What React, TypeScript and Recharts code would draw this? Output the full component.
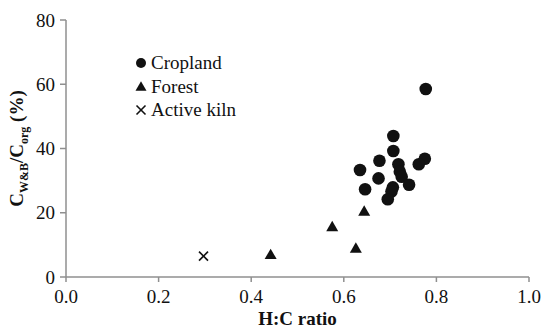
import React from 'react';
import { ScatterChart, Scatter, XAxis, YAxis } from 'recharts';

// H:C ratio vs. water & base extractable carbon share
const croplandHC = [0.777, 0.707, 0.707, 0.677, 0.775, 0.762, 0.635, 0.718, 0.721, 0.725, 0.675, 0.741, 0.646, 0.706, 0.703, 0.695];
const croplandC = [58.5, 43.9, 39.2, 36.2, 36.8, 35.1, 33.3, 35.1, 32.8, 31.2, 30.7, 28.7, 27.3, 27.9, 26.6, 24.2];

const forestHC = [0.644, 0.575, 0.626, 0.442];
const forestC = [20.7, 15.9, 9.2, 7.2];

const kilnHC = [0.297];
const kilnC = [6.5];

const xTicks = [0, 0.2, 0.4, 0.6, 0.8, 1.0];
const yTicks = [0, 20, 40, 60, 80];

const toPoints = (xs: number[], ys: number[]) => xs.map((x, i) => ({ x, y: ys[i] }));

const cropland = toPoints(croplandHC, croplandC);
const forest = toPoints(forestHC, forestC);
const kiln = toPoints(kilnHC, kilnC);

const INK = '#111';
const AXIS = '#8f8f8f';
const FONT = 'Liberation Serif';

const Dot = ({ cx, cy, r = 6.3 }: any) => <circle cx={cx} cy={cy} r={r} fill={INK} />;

const Tri = ({ cx, cy, s = 12 }: any) => {
  const h = s * 0.87;
  return (
    <polygon
      points={`${cx - s / 2},${cy + h / 2} ${cx + s / 2},${cy + h / 2} ${cx},${cy - h / 2}`}
      fill={INK}
    />
  );
};

const Cross = ({ cx, cy, s = 4.5 }: any) => (
  <g stroke={INK} strokeWidth={1.6}>
    <line x1={cx - s} y1={cy - s} x2={cx + s} y2={cy + s} />
    <line x1={cx - s} y1={cy + s} x2={cx + s} y2={cy - s} />
  </g>
);

const legendItems = [
  { name: 'Cropland', icon: <Dot cx={7} cy={8} r={5} /> },
  { name: 'Forest', icon: <Tri cx={7} cy={8} s={11} /> },
  { name: 'Active kiln', icon: <Cross cx={7} cy={8} s={4.5} /> },
];

// plain overlay so the legend takes no room from the plot
const LegendBox = () => (
  <div
    style={{
      position: 'absolute',
      left: 134,
      top: 51,
      fontFamily: FONT,
      fontSize: 19,
      color: INK,
      lineHeight: '23.5px',
    }}
  >
    {legendItems.map((it) => (
      <div key={it.name} style={{ display: 'flex', alignItems: 'center', height: 23.5 }}>
        <svg width={15} height={16} style={{ marginRight: 2 }}>
          {it.icon}
        </svg>
        <span>{it.name}</span>
      </div>
    ))}
  </div>
);

const YLabel = ({ viewBox }: any) => {
  const x = 23;
  const y = viewBox ? viewBox.y + viewBox.height / 2 : 148;
  return (
    <text
      x={x}
      y={y}
      transform={`rotate(-90, ${x}, ${y})`}
      textAnchor="middle"
      fontFamily={FONT}
      fontWeight="bold"
      fontSize={19}
      fill={INK}
    >
      <tspan>C</tspan>
      <tspan fontSize={12} dy={5}>W&amp;B</tspan>
      <tspan dy={-5}>/C</tspan>
      <tspan fontSize={12} dy={5}>org</tspan>
      <tspan dy={-5}> (%)</tspan>
    </text>
  );
};

export default function App() {
  return (
    <div style={{ position: 'absolute', left: 0, top: 0, width: 543, height: 329, background: '#fff' }}>
      <ScatterChart width={543} height={329} margin={{ top: 20, right: 14, bottom: 0, left: 0 }}>
        <XAxis
          type="number"
          dataKey="x"
          domain={[0, 1]}
          ticks={xTicks}
          tickFormatter={(v: number) => v.toFixed(1)}
          height={52}
          stroke={AXIS}
          strokeWidth={1.5}
          tickSize={5}
          tickMargin={8}
          tick={{ fill: INK, fontFamily: FONT, fontSize: 19 }}
          label={{
            value: 'H:C ratio',
            position: 'insideBottom',
            offset: 4,
            fill: INK,
            fontFamily: FONT,
            fontSize: 19,
            fontWeight: 'bold',
          }}
        />
        <YAxis
          type="number"
          dataKey="y"
          domain={[0, 80]}
          ticks={yTicks}
          width={66}
          stroke={AXIS}
          strokeWidth={1.5}
          tickSize={6}
          tickMargin={5}
          tick={{ fill: INK, fontFamily: FONT, fontSize: 19 }}
          label={<YLabel />}
        />
        <Scatter name="Cropland" data={cropland} shape={<Dot />} isAnimationActive={false} />
        <Scatter name="Forest" data={forest} shape={<Tri />} isAnimationActive={false} />
        <Scatter name="Active kiln" data={kiln} shape={<Cross />} isAnimationActive={false} />
      </ScatterChart>
      <LegendBox />
    </div>
  );
}
